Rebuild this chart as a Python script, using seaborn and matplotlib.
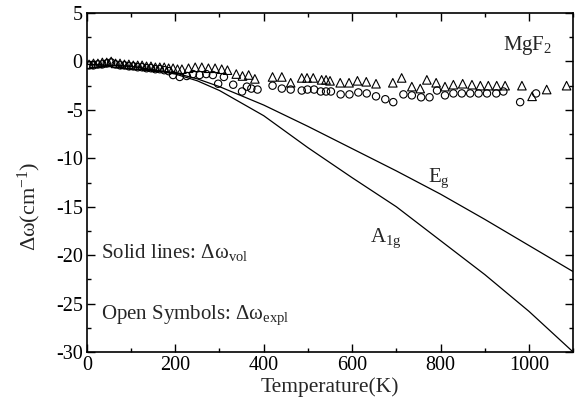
import numpy as np
import pandas as pd
import matplotlib
matplotlib.use("Agg")
import matplotlib.pyplot as plt
from matplotlib.ticker import MultipleLocator
import seaborn as sns

# Linhas calculadas (Δω_vol)
temp_linha = [0, 100, 200, 250, 300, 400, 500, 600, 700, 800, 900, 1000, 1100]
eg_linha = [-0.3, -0.5, -1.2, -1.8, -2.6, -4.5, -6.7, -9.0, -11.3, -13.7, -16.3, -19.0, -21.7]
a1g_linha = [-0.3, -0.5, -1.3, -2.0, -3.0, -5.6, -8.9, -12.0, -15.0, -18.5, -22.0, -25.8, -30.0]

# Triângulos abertos (experimental)
temp_tri = [5, 15, 25, 35, 45, 55, 65, 75, 85, 95, 105, 115, 125, 135, 145, 155, 165, 175,
            185, 195, 205, 215, 230, 245, 260, 275, 290, 305, 318, 338, 352, 366, 380,
            420, 441, 461, 486, 498, 512, 531, 541, 550, 573, 593, 612, 632, 654, 692,
            712, 735, 754, 769, 790, 810, 829, 850, 871, 890, 908, 927, 946, 984, 1007,
            1040, 1085]
val_tri = [-0.3, -0.2, -0.2, -0.1, -0.1, 0.0, -0.2, -0.2, -0.3, -0.3, -0.4, -0.4, -0.4, -0.5,
           -0.5, -0.6, -0.6, -0.6, -0.7, -0.7, -0.8, -0.8, -0.7, -0.6, -0.6, -0.7, -0.7, -0.8,
           -0.9, -1.3, -1.5, -1.4, -1.8, -1.6, -1.6, -2.2, -1.7, -1.7, -1.7, -1.9, -1.9, -2.0,
           -2.2, -2.2, -2.0, -2.1, -2.3, -2.2, -1.7, -2.6, -2.8, -1.9, -2.2, -2.6, -2.4, -2.3,
           -2.4, -2.5, -2.5, -2.5, -2.5, -2.5, -3.6, -2.9, -2.5]

# Círculos abertos (experimental)
temp_circ = [5, 15, 25, 35, 45, 55, 65, 75, 85, 95, 105, 115, 125, 135, 145, 155, 165, 175,
             185, 195, 210, 226, 240, 255, 270, 285, 297, 310, 331, 351, 362, 372, 386,
             420, 441, 461, 486, 499, 514, 529, 541, 552, 574, 594, 614, 633, 654, 675,
             693, 716, 735, 756, 775, 792, 810, 829, 848, 867, 886, 905, 926, 942, 980, 1016]
val_circ = [-0.4, -0.4, -0.3, -0.3, -0.2, -0.1, -0.3, -0.4, -0.4, -0.5, -0.5, -0.6, -0.6, -0.7,
            -0.7, -0.8, -0.8, -0.9, -1.0, -1.4, -1.6, -1.5, -1.3, -1.4, -1.3, -1.4, -2.3, -1.6,
            -2.4, -3.1, -2.6, -2.8, -2.9, -2.5, -2.8, -2.9, -3.0, -2.9, -2.9, -3.1, -3.1, -3.1,
            -3.4, -3.4, -3.2, -3.3, -3.6, -3.9, -4.2, -3.4, -3.5, -3.7, -3.7, -3.0, -3.5, -3.3,
            -3.3, -3.3, -3.3, -3.3, -3.3, -3.1, -4.2, -3.3]

sns.set_style("ticks")
plt.rcParams["font.family"] = ["Liberation Serif", "DejaVu Serif"]
plt.rcParams["mathtext.fontset"] = "custom"
plt.rcParams["mathtext.rm"] = "Liberation Serif"
plt.rcParams["mathtext.it"] = "Liberation Serif:italic"
plt.rcParams["axes.unicode_minus"] = False

fig = plt.figure(figsize=(5.79, 4.07), dpi=100)
ax = fig.add_axes([0.150, 0.135, 0.840, 0.833])

df_linha = pd.DataFrame({"T": temp_linha, "Eg": eg_linha, "A1g": a1g_linha})
sns.lineplot(data=df_linha, x="T", y="Eg", color="black", lw=0.9, ax=ax)
sns.lineplot(data=df_linha, x="T", y="A1g", color="black", lw=0.9, ax=ax)

sns.scatterplot(x=temp_circ, y=val_circ, marker="o", s=28, facecolors="none",
                edgecolors="black", linewidths=0.8, ax=ax)
sns.scatterplot(x=temp_tri, y=val_tri, marker="^", s=38, facecolors="none",
                edgecolors="black", linewidths=0.8, ax=ax)

ax.set_xlim(0, 1100)
ax.set_ylim(-30, 5)
ax.xaxis.set_major_locator(MultipleLocator(200))
ax.xaxis.set_minor_locator(MultipleLocator(100))
ax.yaxis.set_major_locator(MultipleLocator(5))
ax.yaxis.set_minor_locator(MultipleLocator(2.5))
ax.tick_params(which="both", direction="in", top=True, right=True, width=1.0,
               labelsize=14.5, colors="black")
ax.tick_params(which="major", length=6, pad=3)
ax.tick_params(which="minor", length=3)
for s in ax.spines.values():
    s.set_linewidth(1.2)
    s.set_color("black")

ax.set_xlabel("Temperature(K)", fontsize=15.5)
ax.set_ylabel("Δω(cm$^{-1}$)", fontsize=16)
ax.xaxis.set_label_coords(0.5, -0.075)
ax.yaxis.set_label_coords(-0.09, 0.43)

ax.text(942, 1.2, "MgF$_2$", fontsize=15, va="baseline")
ax.text(772, -12.4, "E$_\\mathrm{g}$", fontsize=15, va="baseline")
ax.text(640, -18.6, "A$_\\mathrm{1g}$", fontsize=15, va="baseline")
ax.text(33, -20.3, "Solid lines: Δω$_\\mathrm{vol}$", fontsize=15, va="baseline")
ax.text(33, -26.6, "Open Symbols: Δω$_\\mathrm{expl}$", fontsize=15, va="baseline")

fig.savefig("out.png", dpi=100)
